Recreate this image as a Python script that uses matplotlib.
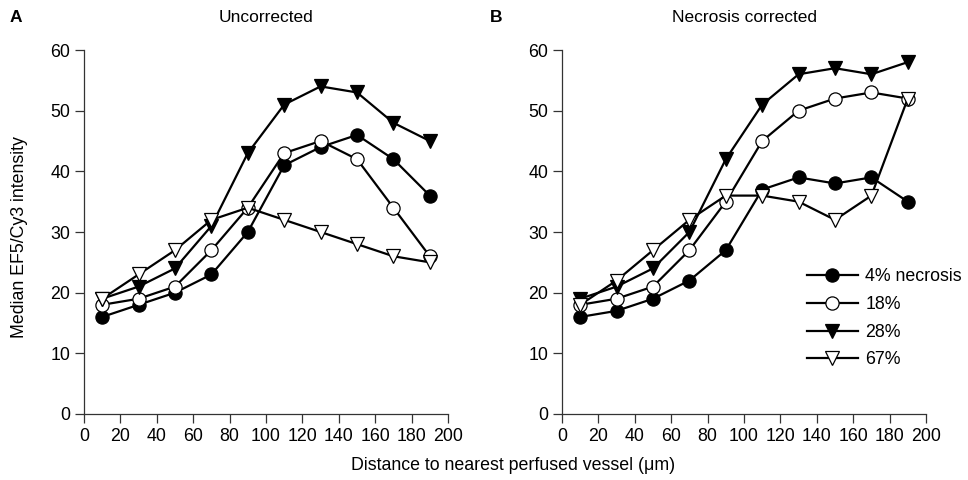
import numpy as np
import matplotlib.pyplot as plt

plt.rcParams['font.family'] = ['Liberation Sans', 'DejaVu Sans']

distance = [10, 30, 50, 70, 90, 110, 130, 150, 170, 190]
labels = ['4% necrosis', '18%', '28%', '67%']

# panel A: uncorrected
unc_4 = [16, 18, 20, 23, 30, 41, 44, 46, 42, 36]
unc_18 = [18, 19, 21, 27, 34, 43, 45, 42, 34, 26]
unc_28 = [19, 21, 24, 31, 43, 51, 54, 53, 48, 45]
unc_67 = [19, 23, 27, 32, 34, 32, 30, 28, 26, 25]

# panel B: necrosis corrected
cor_4 = [16, 17, 19, 22, 27, 37, 39, 38, 39, 35]
cor_18 = [18, 19, 21, 27, 35, 45, 50, 52, 53, 52]
cor_28 = [19, 21, 24, 30, 42, 51, 56, 57, 56, 58]
cor_67 = [18, 22, 27, 32, 36, 36, 35, 32, 36, 52]

styles = [('o', 'black'), ('o', 'white'), ('v', 'black'), ('v', 'white')]

fig = plt.figure(figsize=(9.68, 4.8), dpi=100)
W, H = 968, 480
axA = fig.add_axes([84 / W, 66 / H, 364 / W, 364 / H])
axB = fig.add_axes([562 / W, 66 / H, 364 / W, 364 / H])

for ax, series in [(axA, [unc_4, unc_18, unc_28, unc_67]),
                   (axB, [cor_4, cor_18, cor_28, cor_67])]:
    for vals, (m, fc), lab in zip(series, styles, labels):
        ax.plot(distance, vals, color='black', lw=1.6, marker=m, ms=9.5,
                mfc=fc, mec='black', mew=0.9, label=lab)
    ax.set_xlim(0, 200)
    ax.set_ylim(0, 60)
    ax.set_xticks(np.arange(0, 201, 20))
    ax.set_yticks(np.arange(0, 61, 10))
    ax.spines['top'].set_visible(False)
    ax.spines['right'].set_visible(False)
    for s in ['left', 'bottom']:
        ax.spines[s].set_linewidth(0.9)
        ax.spines[s].set_color('#333333')
    ax.tick_params(direction='out', length=6.3, width=0.9, labelsize=12.8,
                   color='#333333', pad=3.5)

axB.legend(loc='upper left', bbox_to_anchor=(0.672, 0.40), frameon=False,
           fontsize=12.8, handlelength=2.9, handletextpad=0.4,
           labelspacing=0.6, borderpad=0, borderaxespad=0)

fig.text(266 / W, 1 - 18 / H, 'Uncorrected', ha='center', va='center', fontsize=12.5)
fig.text(745 / W, 1 - 18 / H, 'Necrosis corrected', ha='center', va='center', fontsize=12.5)
fig.text(10 / W, 1 - 18 / H, 'A', ha='left', va='center', fontsize=12.5, fontweight='bold')
fig.text(490 / W, 1 - 18 / H, 'B', ha='left', va='center', fontsize=12.5, fontweight='bold')
fig.text(20 / W, 1 - 237 / H, 'Median EF5/Cy3 intensity', ha='center', va='center',
         rotation=90, fontsize=12.8)
fig.text(513 / W, 1 - 465 / H, 'Distance to nearest perfused vessel (\u03bcm)',
         ha='center', va='center', fontsize=12.8)

fig.savefig('out.png', dpi=100)
